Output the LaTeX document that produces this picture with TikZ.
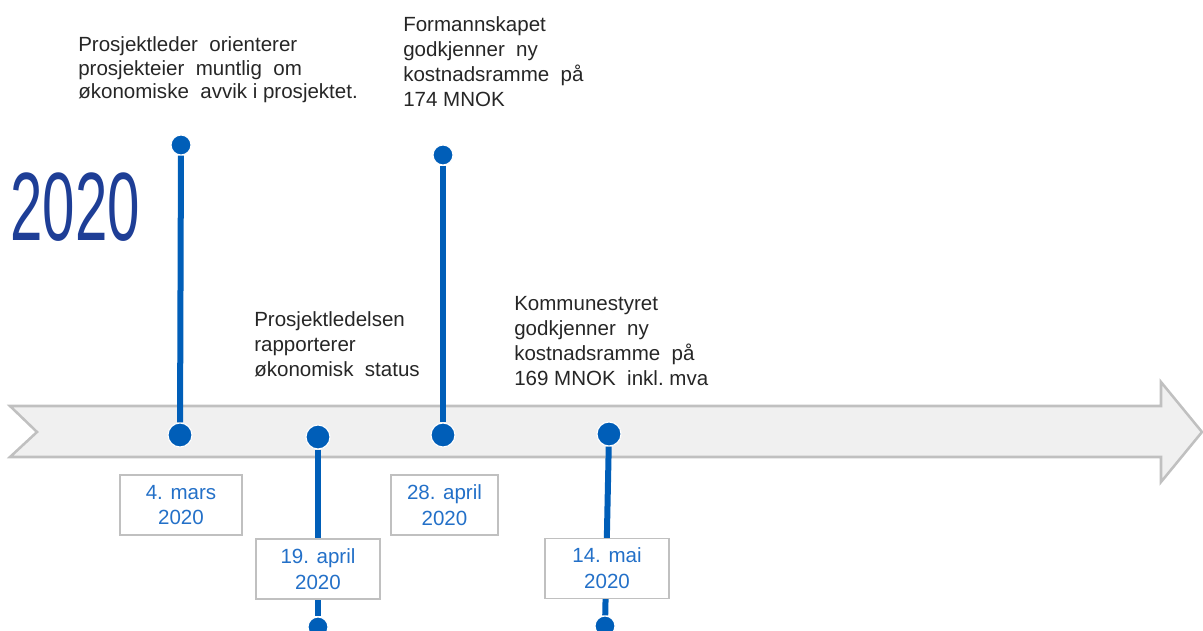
\documentclass[tikz,border=0pt]{standalone}
\usepackage{fontspec}
\setmainfont{Liberation Sans}
\usepackage{graphicx}
\definecolor{markblue}{RGB}{0,94,184}
\definecolor{dateblue}{RGB}{35,112,200}
\definecolor{yearblue}{RGB}{30,62,150}
\definecolor{bandfill}{RGB}{240,240,240}
\definecolor{bandedge}{RGB}{192,192,192}
\definecolor{notegray}{RGB}{38,38,38}
\begin{document}
\begin{tikzpicture}[x=0.025cm,y=-0.025cm,
        markdot/.style={circle,fill=markblue,draw=white,line width=0.8pt,inner sep=0pt,minimum size=#1},
        markstem/.style={markblue,line width=0.15cm},
        eventtext/.style={anchor=north west,inner sep=0pt,align=left,text=notegray,font=\fontsize{14.6}{17.9}\selectfont},
        datebox/.style={draw=bandedge,fill=white,line width=0.9pt,inner sep=0pt,align=center,text=dateblue,minimum height=1.5cm,font=\fontsize{14.6}{18.4}\selectfont}]
                \useasboundingbox (0,0) rectangle (1203,631);
                \draw[draw=bandedge,fill=bandfill,line width=1.8pt,line join=miter] (10,406) -- (1161,406) -- (1161,382) -- (1202,432) -- (1161,482) -- (1161,457) -- (10,457) -- (37,432) -- cycle;
                \node[anchor=base west,inner sep=0pt,text=yearblue,font=\fontsize{69}{69}\selectfont] (year) at (10,240) {\scalebox{0.6}[1]{2020}};
                % markers
                \node[markdot=0.5cm] (top1) at (181,145) {};
                \node[markdot=0.6cm] (on1) at (180,435) {};
                \node[markdot=0.6cm] (on2) at (318,437) {};
                \node[markdot=0.5cm] (end2) at (318,627) {};
                \node[markdot=0.5cm] (top3) at (443,155) {};
                \node[markdot=0.6cm] (on3) at (443,435) {};
                \node[markdot=0.6cm] (on4) at (609,434) {};
                \node[markdot=0.5cm] (end4) at (605,626) {};
                \draw[markstem] (top1) -- (on1);
                \draw[markstem] (on2) -- (end2);
                \draw[markstem] (top3) -- (on3);
                \draw[markstem] (on4) -- (end4);
                % dates
                \node[datebox,minimum width=3.05cm] (d1) at (181,505) {4. mars\\2020};
                \node[datebox,minimum width=3.1cm] (d2) at (318,569) {19. april\\2020};
                \node[datebox,minimum width=2.675cm] (d3) at (444.5,505) {28. april\\2020};
                \node[datebox,minimum width=3.1cm] (d4) at (607,568.5) {14. mai\\2020};
                % events
                \node[eventtext,font=\fontsize{14.6}{17}\selectfont] (ev1) at (78,36) {Prosjektleder\ \ orienterer\\prosjekteier\ \ muntlig\ \ om\\økonomiske\ \ avvik\ i prosjektet.};
                \node[eventtext] (ev2) at (403,16) {Formannskapet\\godkjenner\ \ ny\\kostnadsramme\ \ på\\174 MNOK};
                \node[eventtext] (ev3) at (254,311) {Prosjektledelsen\\rapporterer\\økonomisk\ \ status};
                \node[eventtext] (ev4) at (514,296) {Kommunestyret\\godkjenner\ \ ny\\kostnadsramme\ \ på\\169 MNOK\ \ inkl.\ mva};
\end{tikzpicture}
\end{document}
